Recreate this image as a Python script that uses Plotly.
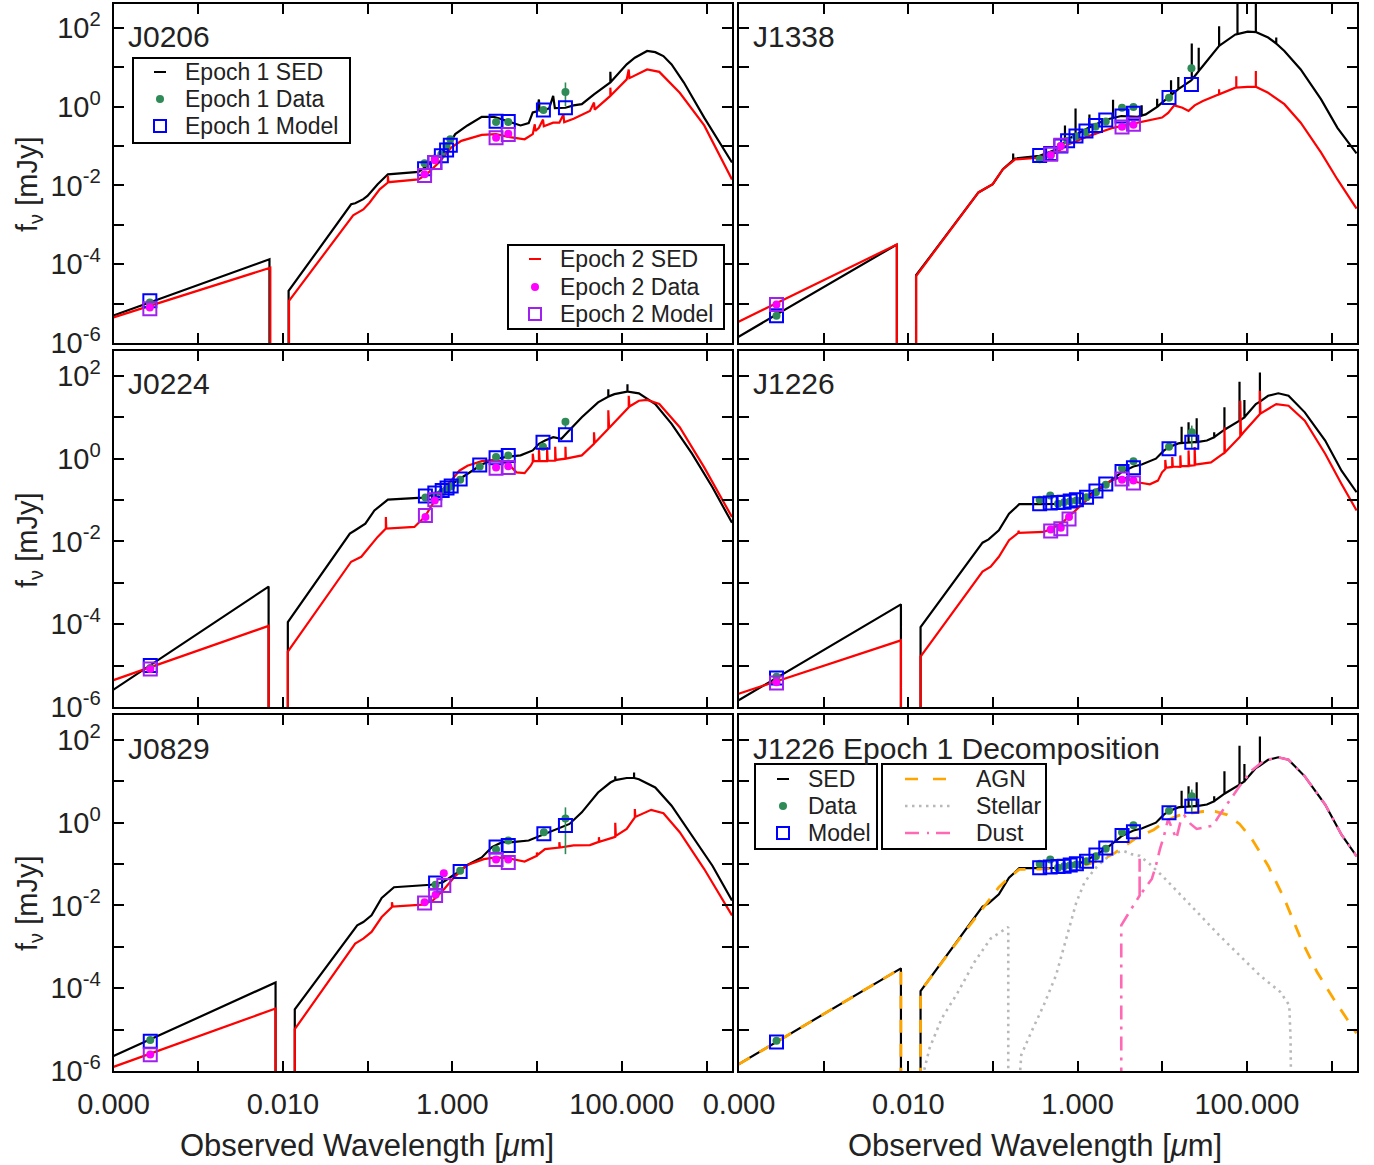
import numpy as np
import plotly.graph_objects as go

# ------------------------------------------------------------------
# Values.
# SED pairs are (log10 observed wavelength [um], log10 f_nu [mJy]).
# A flux of -7 (1e-7 mJy) marks the model dropping to zero (below range).
# ------------------------------------------------------------------

# ---------------- J0206 ----------------
J0206_E1_SED = [(-4.0, -5.30), (-2.159, -3.875), (-2.159, -7), (-1.933, -7), (-1.933, -4.68),
                (-1.195, -2.48), (-1.147, -2.455), (-1.051, -2.35), (-1.002, -2.27), (-0.882, -1.97),
                (-0.761, -1.72), (-0.400, -1.66), (-0.304, -1.51), (-0.159, -1.25), (-0.014, -0.87),
                (0.034, -0.70), (0.178, -0.48), (0.347, -0.26), (0.491, -0.26), (0.660, -0.37),
                (0.805, -0.48), (0.901, -0.42), (0.949, -0.15), (1.000, -0.12), (1.022, 0.18),
                (1.030, -0.10), (1.142, -0.05), (1.190, 0.27), (1.210, -0.04), (1.335, -0.03),
                (1.431, 0.03), (1.528, 0.06), (1.672, 0.31), (1.865, 0.61), (1.865, 0.88),
                (1.870, 0.62), (2.058, 1.07), (2.154, 1.24), (2.299, 1.41), (2.395, 1.38),
                (2.491, 1.28), (2.588, 1.07), (2.733, 0.61), (2.973, -0.28), (3.301, -1.42)]
J0206_E2_SED = [(-4.0, -5.35), (-2.149, -4.09), (-2.149, -7), (-1.928, -7), (-1.928, -4.93),
                (-1.171, -2.76), (-1.051, -2.61), (-0.978, -2.44), (-0.858, -2.10), (-0.761, -1.93),
                (-0.761, -1.76), (-0.755, -1.92), (-0.400, -1.85), (-0.304, -1.72), (-0.159, -1.42),
                (-0.014, -1.04), (0.106, -0.87), (0.347, -0.72), (0.516, -0.70), (0.660, -0.77),
                (0.853, -0.83), (0.949, -0.70), (0.973, -0.45), (0.980, -0.62), (1.022, -0.54),
                (1.070, -0.33), (1.080, -0.50), (1.190, -0.41), (1.263, -0.41), (1.311, -0.20),
                (1.320, -0.40), (1.431, -0.31), (1.624, -0.11), (1.672, 0.10), (1.680, -0.08),
                (1.865, 0.27), (1.865, 0.48), (1.870, 0.28), (2.058, 0.69), (2.082, 0.94),
                (2.090, 0.72), (2.299, 0.94), (2.443, 0.88), (2.684, 0.35), (2.973, -0.48),
                (3.301, -1.85)]
J0206_E1_BANDS = [-3.571, -0.328, -0.207, -0.130, -0.068, -0.024, 0.516, 0.660, 1.075, 1.335]
J0206_E1_DATA = [-4.97, -1.44, -1.32, -1.21, -1.00, -0.83, -0.39, -0.39, -0.09, 0.37]
J0206_E1_MODEL = [-4.93, -1.58, -1.42, -1.25, -1.10, -0.98, -0.37, -0.38, -0.09, -0.03]
J0206_E2_BANDS = [-3.571, -0.328, -0.207, 0.516, 0.660]
J0206_E2_DATA = [-5.10, -1.72, -1.36, -0.79, -0.69]
J0206_E2_MODEL = [-5.13, -1.75, -1.42, -0.79, -0.71]
J0206_E1_ERR = [(1.335, 0.01, 0.61)]   # (log wl, log low, log high)

# ---------------- J1338 ----------------
J1338_E1_SED = [(-4.005, -5.84), (-2.135, -3.50), (-2.135, -7), (-1.908, -7), (-1.908, -4.28),
                (-1.171, -2.18), (-1.075, -2.06), (-1.002, -1.97), (-0.882, -1.59), (-0.761, -1.36),
                (-0.761, -1.19), (-0.761, -1.36), (-0.737, -1.32), (-0.448, -1.25), (-0.255, -1.09),
                (-0.149, -0.90), (-0.149, -0.48), (-0.149, -0.90), (-0.111, -0.83), (-0.024, -0.72),
                (-0.024, -0.05), (-0.024, -0.72), (0.130, -0.54), (0.140, -0.53), (0.140, -0.20),
                (0.140, -0.53), (0.323, -0.34), (0.419, -0.29), (0.419, 0.17), (0.419, -0.29),
                (0.516, -0.24), (0.708, -0.26), (0.757, -0.23), (0.757, 0.03), (0.757, -0.23),
                (0.805, -0.20), (0.901, -0.07), (0.940, -0.01), (0.940, 0.20), (0.940, -0.01),
                (0.998, 0.10), (1.094, 0.27), (1.104, 0.29), (1.104, 0.67), (1.104, 0.29),
                (1.190, 0.44), (1.190, 0.75), (1.190, 0.44), (1.335, 0.65), (1.349, 0.68),
                (1.349, 1.60), (1.349, 0.68), (1.431, 0.90), (1.431, 1.49), (1.431, 0.90),
                (1.480, 1.03), (1.672, 1.54), (1.672, 2.04), (1.672, 1.54), (1.865, 1.83),
                (1.889, 1.84), (1.889, 2.70), (1.889, 1.84), (2.010, 1.90), (2.106, 1.89),
                (2.106, 2.70), (2.106, 1.89), (2.251, 1.75), (2.347, 1.60), (2.347, 1.75),
                (2.347, 1.60), (2.443, 1.41), (2.636, 0.94), (2.877, 0.18), (3.070, -0.54),
                (3.296, -1.19)]
J1338_E2_SED = [(-4.005, -5.46), (-2.135, -3.50), (-2.135, -7), (-1.908, -7), (-1.908, -4.30),
                (-1.171, -2.18), (-1.075, -2.06), (-1.002, -1.97), (-0.882, -1.59), (-0.737, -1.34),
                (-0.448, -1.30), (-0.255, -1.17), (-0.111, -0.96), (0.130, -0.75), (0.419, -0.54),
                (0.708, -0.41), (0.998, -0.28), (1.070, -0.16), (1.142, 0.03), (1.239, -0.03),
                (1.311, -0.11), (1.383, 0.03), (1.480, 0.14), (1.672, 0.31), (1.672, 0.44),
                (1.672, 0.31), (1.865, 0.48), (1.875, 0.48), (1.875, 0.77), (1.875, 0.48),
                (2.010, 0.50), (2.106, 0.50), (2.106, 0.90), (2.106, 0.50), (2.251, 0.35),
                (2.443, 0.06), (2.636, -0.41), (2.877, -1.17), (3.070, -1.85), (3.296, -2.59)]
J1338_E1_BANDS = [-3.557, -0.448, -0.318, -0.198, -0.118, -0.019, 0.099, 0.212, 0.333, 0.525, 0.660, 1.080, 1.345]
J1338_E1_DATA = [-5.31, -1.34, -1.24, -1.00, -0.87, -0.76, -0.65, -0.51, -0.38, -0.03, -0.01, 0.22, 0.97]
J1338_E1_MODEL = [-5.31, -1.24, -1.19, -1.00, -0.87, -0.75, -0.62, -0.48, -0.34, -0.24, -0.17, 0.23, 0.56]
J1338_E2_BANDS = [-3.557, -0.318, -0.198, 0.525, 0.660]
J1338_E2_DATA = [-5.02, -1.23, -1.00, -0.51, -0.46]
J1338_E2_MODEL = [-5.02, -1.21, -0.98, -0.52, -0.45]
J1338_E1_ERR = []

# ---------------- J0224 ----------------
J0224_E1_SED = [(-4.0, -5.58), (-2.169, -3.09), (-2.169, -7), (-1.942, -7), (-1.942, -3.95),
                (-1.210, -1.81), (-1.147, -1.73), (-1.027, -1.57), (-0.920, -1.25), (-0.761, -0.99),
                (-0.352, -0.94), (-0.207, -0.86), (-0.063, -0.69), (0.082, -0.49), (0.202, -0.33),
                (0.347, -0.14), (0.516, 0.00), (0.660, 0.05), (0.805, 0.08), (0.949, 0.20),
                (1.022, 0.36), (1.094, 0.44), (1.190, 0.52), (1.287, 0.48), (1.359, 0.64),
                (1.528, 1.00), (1.720, 1.36), (1.841, 1.50), (1.841, 1.68), (1.841, 1.50),
                (1.913, 1.56), (2.058, 1.62), (2.067, 1.62), (2.067, 1.80), (2.067, 1.62),
                (2.202, 1.58), (2.395, 1.32), (2.588, 0.84), (2.829, 0.12), (3.070, -0.69),
                (3.301, -1.55)]
J0224_E2_SED = [(-4.0, -5.35), (-2.169, -4.04), (-2.169, -7), (-1.942, -7), (-1.942, -4.66),
                (-1.195, -2.49), (-1.075, -2.37), (-0.978, -2.13), (-0.882, -1.89), (-0.785, -1.69),
                (-0.785, -1.41), (-0.780, -1.69), (-0.448, -1.65), (-0.328, -1.41), (-0.255, -1.17),
                (-0.159, -0.85), (-0.014, -0.53), (0.082, -0.29), (0.178, -0.17), (0.347, -0.06),
                (0.516, -0.03), (0.660, -0.13), (0.757, -0.33), (0.853, -0.35), (0.925, -0.17),
                (0.949, -0.08), (0.949, 0.12), (0.960, -0.06), (1.022, -0.06), (1.022, 0.26),
                (1.030, -0.06), (1.118, -0.06), (1.118, 0.28), (1.125, -0.05), (1.214, -0.05),
                (1.214, 0.29), (1.220, -0.03), (1.335, 0.00), (1.335, 0.29), (1.340, 0.00),
                (1.528, 0.08), (1.672, 0.36), (1.672, 0.64), (1.680, 0.38), (1.841, 0.72),
                (1.841, 1.17), (1.850, 0.74), (2.082, 1.24), (2.082, 1.52), (2.090, 1.26),
                (2.202, 1.40), (2.299, 1.42), (2.443, 1.32), (2.684, 0.76), (2.973, -0.21),
                (3.301, -1.41)]
J0224_E1_BANDS = [-3.566, -0.318, -0.207, -0.120, -0.063, -0.014, 0.092, 0.323, 0.516, 0.660, 1.070, 1.335]
J0224_E1_DATA = [-5.06, -0.94, -0.89, -0.81, -0.73, -0.67, -0.51, -0.19, 0.04, 0.08, 0.29, 0.89]
J0224_E1_MODEL = [-5.00, -0.90, -0.83, -0.77, -0.71, -0.66, -0.49, -0.15, 0.02, 0.08, 0.40, 0.58]
J0224_E2_BANDS = [-3.566, -0.318, -0.207, 0.516, 0.660]
J0224_E2_DATA = [-5.08, -1.41, -1.01, -0.21, -0.18]
J0224_E2_MODEL = [-5.08, -1.37, -0.99, -0.23, -0.21]
J0224_E1_ERR = [(1.335, 0.74, 0.98)]

# ---------------- J1226 ----------------
J1226_E1_SED = [(-4.005, -5.84), (-2.087, -3.52), (-2.087, -7), (-1.855, -7), (-1.855, -4.07),
                (-1.123, -2.03), (-1.051, -1.95), (-0.930, -1.73), (-0.810, -1.33), (-0.689, -1.10),
                (-0.448, -1.10), (-0.255, -1.09), (-0.063, -1.05), (0.082, -0.93), (0.227, -0.77),
                (0.371, -0.57), (0.516, -0.33), (0.660, -0.19), (0.757, -0.14), (0.925, 0.00),
                (1.022, 0.20), (1.094, 0.29), (1.190, 0.37), (1.229, 0.38), (1.229, 0.77),
                (1.229, 0.38), (1.311, 0.39), (1.311, 0.88), (1.311, 0.39), (1.383, 0.40),
                (1.407, 0.40), (1.407, 0.98), (1.407, 0.40), (1.528, 0.44), (1.614, 0.52),
                (1.614, 0.64), (1.614, 0.52), (1.720, 0.68), (1.735, 0.70), (1.735, 1.24),
                (1.735, 0.70), (1.913, 0.92), (1.913, 1.86), (1.913, 0.92), (1.971, 1.00),
                (1.971, 1.42), (1.971, 1.00), (2.106, 1.32), (2.154, 1.38), (2.154, 2.08),
                (2.154, 1.38), (2.251, 1.52), (2.371, 1.58), (2.492, 1.52), (2.684, 1.12),
                (2.925, 0.44), (3.118, -0.29), (3.296, -0.81)]
J1226_E2_SED = [(-4.005, -5.68), (-2.087, -4.39), (-2.087, -7), (-1.855, -7), (-1.855, -4.78),
                (-1.123, -2.73), (-1.027, -2.61), (-0.930, -2.37), (-0.810, -1.97), (-0.699, -1.79),
                (-0.699, -1.74), (-0.690, -1.79), (-0.400, -1.77), (-0.304, -1.69), (-0.183, -1.55),
                (-0.063, -1.33), (0.082, -1.05), (0.227, -0.75), (0.395, -0.53), (0.516, -0.45),
                (0.708, -0.57), (0.853, -0.62), (0.949, -0.53), (0.998, -0.33), (1.036, -0.25),
                (1.036, -0.03), (1.045, -0.22), (1.118, -0.20), (1.118, 0.04), (1.125, -0.19),
                (1.214, -0.20), (1.214, 0.08), (1.220, -0.18), (1.311, -0.18), (1.311, 0.20),
                (1.318, -0.17), (1.383, -0.16), (1.383, 0.28), (1.390, -0.14), (1.431, -0.13),
                (1.576, -0.09), (1.720, 0.12), (1.735, 0.14), (1.735, 0.76), (1.740, 0.15),
                (1.913, 0.52), (1.922, 0.54), (1.922, 1.40), (1.930, 0.56), (1.961, 0.64),
                (2.154, 1.08), (2.154, 1.64), (2.160, 1.09), (2.347, 1.32), (2.492, 1.28),
                (2.684, 0.92), (2.925, 0.12), (3.118, -0.61), (3.296, -1.25)]
J1226_E1_BANDS = [-3.557, -0.448, -0.323, -0.231, -0.159, -0.087, -0.014, 0.106, 0.217, 0.333, 0.525, 0.660, 1.080, 1.349]
J1226_E1_DATA = [-5.27, -0.99, -0.89, -1.09, -1.05, -1.03, -1.01, -0.93, -0.81, -0.63, -0.23, -0.06, 0.29, 0.64]
J1226_E1_MODEL = [-5.30, -1.09, -1.07, -1.06, -1.05, -1.02, -0.99, -0.93, -0.78, -0.61, -0.31, -0.22, 0.24, 0.40]
J1226_E2_BANDS = [-3.557, -0.318, -0.198, -0.101, 0.525, 0.660]
J1226_E2_DATA = [-5.40, -1.71, -1.67, -1.41, -0.51, -0.53]
J1226_E2_MODEL = [-5.42, -1.75, -1.69, -1.46, -0.49, -0.59]
J1226_E1_ERR = [(1.349, 0.26, 0.80)]

# J1226 epoch-1 decomposition components
J1226_AGN = [(-4.005, -5.84), (-2.087, -3.52), (-2.087, -7), (-1.855, -7), (-1.855, -4.07),
             (-1.605, -3.37), (-1.364, -2.72), (-1.123, -2.08), (-0.930, -1.56), (-0.786, -1.28),
             (-0.689, -1.13), (-0.448, -1.12), (-0.255, -1.10), (-0.014, -1.05), (0.130, -1.00),
             (0.275, -0.89), (0.419, -0.76), (0.564, -0.55), (0.708, -0.35), (0.901, -0.17),
             (1.046, 0.05), (1.190, 0.17), (1.335, 0.23), (1.480, 0.27), (1.624, 0.27),
             (1.769, 0.19), (1.913, -0.03), (2.058, -0.39), (2.251, -1.04), (2.443, -1.84),
             (2.636, -2.80), (2.829, -3.61), (3.022, -4.25), (3.296, -5.09)]
J1226_STELLAR = [(-1.850, -6.3), (-1.749, -5.45), (-1.605, -4.73), (-1.412, -4.09), (-1.219, -3.37),
                 (-1.027, -2.80), (-0.819, -2.52), (-0.819, -7), (-0.713, -7), (-0.665, -5.61),
                 (-0.545, -5.05), (-0.400, -4.41), (-0.255, -3.69), (-0.135, -2.80), (-0.014, -1.92),
                 (0.082, -1.44), (0.202, -1.12), (0.323, -0.88), (0.443, -0.73), (0.540, -0.68),
                 (0.636, -0.76), (0.733, -0.80), (0.853, -1.00), (0.998, -1.28), (1.190, -1.68),
                 (1.431, -2.20), (1.672, -2.72), (1.913, -3.21), (2.154, -3.69), (2.395, -4.09),
                 (2.501, -4.41), (2.516, -5.21), (2.525, -7)]
J1226_DUST = [(0.516, -7), (0.516, -2.48), (0.636, -2.08), (0.733, -1.76), (0.733, -0.87),
              (0.733, -1.76), (0.805, -1.56), (0.877, -1.36), (0.925, -1.04), (0.973, -0.64),
              (1.022, -0.31), (1.070, 0.09), (1.118, -0.15), (1.166, -0.39), (1.214, 0.01),
              (1.263, 0.17), (1.335, -0.03), (1.407, -0.15), (1.504, -0.11), (1.600, -0.07),
              (1.672, 0.17), (1.769, 0.45), (1.913, 0.88), (2.058, 1.26), (2.202, 1.50),
              (2.371, 1.58), (2.492, 1.52), (2.684, 1.12), (2.925, 0.44), (3.118, -0.29),
              (3.296, -0.81)]

# ---------------- J0829 ----------------
J0829_E1_SED = [(-4.0, -5.64), (-2.087, -3.86), (-2.087, -7), (-1.860, -7), (-1.860, -4.51),
                (-1.123, -2.48), (-1.051, -2.40), (-0.954, -2.24), (-0.834, -1.82), (-0.689, -1.56),
                (-0.255, -1.50), (-0.111, -1.44), (0.034, -1.24), (0.178, -1.02), (0.347, -0.84),
                (0.467, -0.59), (0.588, -0.47), (0.708, -0.47), (0.901, -0.43), (0.998, -0.35),
                (1.094, -0.27), (1.239, -0.15), (1.383, -0.03), (1.528, 0.25), (1.720, 0.73),
                (1.865, 0.97), (1.923, 1.03), (1.923, 1.12), (1.923, 1.03), (2.058, 1.08),
                (2.145, 1.08), (2.145, 1.21), (2.145, 1.08), (2.202, 1.05), (2.395, 0.85),
                (2.588, 0.41), (2.829, -0.31), (3.070, -1.04), (3.301, -1.88)]
J0829_E2_SED = [(-4.0, -5.90), (-2.087, -4.49), (-2.087, -7), (-1.860, -7), (-1.860, -4.99),
                (-1.147, -2.92), (-1.051, -2.80), (-0.954, -2.64), (-0.834, -2.28), (-0.713, -2.04),
                (-0.713, -1.92), (-0.705, -2.03), (-0.352, -1.98), (-0.231, -1.88), (-0.111, -1.64),
                (0.034, -1.29), (0.178, -1.02), (0.371, -0.88), (0.516, -0.84), (0.660, -0.86),
                (0.853, -0.94), (0.973, -0.84), (0.998, -0.80), (0.998, -0.72), (1.005, -0.78),
                (1.094, -0.64), (1.263, -0.60), (1.263, -0.47), (1.270, -0.60), (1.431, -0.55),
                (1.624, -0.54), (1.720, -0.47), (1.730, -0.46), (1.730, -0.35), (1.735, -0.46),
                (1.913, -0.35), (1.923, -0.34), (1.923, 0.00), (1.930, -0.32), (2.058, -0.15),
                (2.154, 0.13), (2.154, 0.33), (2.160, 0.14), (2.347, 0.31), (2.492, 0.23),
                (2.684, -0.23), (2.973, -1.12), (3.301, -2.24)]
J0829_E1_BANDS = [-3.566, -0.198, 0.092, 0.516, 0.660, 1.080, 1.335]
J0829_E1_DATA = [-5.25, -1.50, -1.16, -0.65, -0.43, -0.23, 0.10]
J0829_E1_MODEL = [-5.28, -1.46, -1.18, -0.59, -0.55, -0.27, -0.07]
J0829_E2_BANDS = [-3.566, -0.328, -0.198, -0.101, 0.516, 0.660]
J0829_E2_DATA = [-5.60, -1.92, -1.74, -1.22, -0.89, -0.89]
J0829_E2_MODEL = [-5.61, -1.94, -1.76, -1.52, -0.89, -0.96]
J0829_E1_ERR = [(1.335, -0.76, 0.37)]

# Axis ticks (labelled every two decades, plain ticks in between)
X_TICK_VALUES = [1e-4, 1e-2, 1e0, 1e2]
X_TICK_LABELS = ["0.000", "0.010", "1.000", "100.000"]
X_MINOR_TICKS = [1e-3, 1e-1, 1e1, 1e3]
Y_TICK_VALUES = [1e-6, 1e-4, 1e-2, 1e0, 1e2]
Y_TICK_LABELS = ["10<sup>-6</sup>", "10<sup>-4</sup>", "10<sup>-2</sup>", "10<sup>0</sup>", "10<sup>2</sup>"]
Y_MINOR_TICKS = [1e-5, 1e-3, 1e-1, 1e1]
X_RANGE_UM = (1e-4, 2000.0)
Y_RANGE_MJY = (1e-6, 4e2)

PANELS = [
    dict(label="J0206", sed1=J0206_E1_SED, sed2=J0206_E2_SED, b1=J0206_E1_BANDS, d1=J0206_E1_DATA,
         m1=J0206_E1_MODEL, b2=J0206_E2_BANDS, d2=J0206_E2_DATA, m2=J0206_E2_MODEL, err=J0206_E1_ERR),
    dict(label="J1338", sed1=J1338_E1_SED, sed2=J1338_E2_SED, b1=J1338_E1_BANDS, d1=J1338_E1_DATA,
         m1=J1338_E1_MODEL, b2=J1338_E2_BANDS, d2=J1338_E2_DATA, m2=J1338_E2_MODEL, err=J1338_E1_ERR),
    dict(label="J0224", sed1=J0224_E1_SED, sed2=J0224_E2_SED, b1=J0224_E1_BANDS, d1=J0224_E1_DATA,
         m1=J0224_E1_MODEL, b2=J0224_E2_BANDS, d2=J0224_E2_DATA, m2=J0224_E2_MODEL, err=J0224_E1_ERR),
    dict(label="J1226", sed1=J1226_E1_SED, sed2=J1226_E2_SED, b1=J1226_E1_BANDS, d1=J1226_E1_DATA,
         m1=J1226_E1_MODEL, b2=J1226_E2_BANDS, d2=J1226_E2_DATA, m2=J1226_E2_MODEL, err=J1226_E1_ERR),
    dict(label="J0829", sed1=J0829_E1_SED, sed2=J0829_E2_SED, b1=J0829_E1_BANDS, d1=J0829_E1_DATA,
         m1=J0829_E1_MODEL, b2=J0829_E2_BANDS, d2=J0829_E2_DATA, m2=J0829_E2_MODEL, err=J0829_E1_ERR),
    dict(label="J1226 Epoch 1 Decomposition", sed1=J1226_E1_SED, sed2=None, b1=J1226_E1_BANDS,
         d1=J1226_E1_DATA, m1=J1226_E1_MODEL, b2=None, d2=None, m2=None, err=J1226_E1_ERR,
         agn=J1226_AGN, stellar=J1226_STELLAR, dust=J1226_DUST),
]

# ------------------------------------------------------------------ styles / layout
FONT = "Liberation Sans, Arial, Helvetica, sans-serif"
TXT = "#222222"
W, H = 1374, 1165
COL_PX = [(113.5, 732.0), (739.0, 1357.0)]
ROW_PX = [(4.0, 343.0), (351.0, 707.0), (715.0, 1071.0)]

C_E1 = "black"
C_E2 = "#ff0000"
C_D1 = "#2e8b57"
C_M1 = "#0000ff"
C_D2 = "#ff00ff"
C_M2 = "#a020f0"
C_AGN, DASH_AGN = "#ffa500", "13px,11px"
C_STE, DASH_STE = "#b8b8b8", "2.5px,4.5px"
C_DUS, DASH_DUS = "#ff69b4", "14px,7px,3px,7px"


def lin(v):
    return [10.0 ** a for a in v]


def split(pairs):
    return lin([p[0] for p in pairs]), lin([p[1] for p in pairs])


fig = go.Figure()

for k, P in enumerate(PANELS):
    sfx = "" if k == 0 else str(k + 1)
    xa, ya = "x" + sfx, "y" + sfx
    decomp = (k == 5)

    x, y = split(P["sed1"])
    fig.add_trace(go.Scatter(x=x, y=y, mode="lines", xaxis=xa, yaxis=ya,
                             line=dict(color=C_E1, width=2.2),
                             name="SED" if decomp else "Epoch 1 SED", showlegend=False))
    if P["sed2"] is not None:
        x, y = split(P["sed2"])
        fig.add_trace(go.Scatter(x=x, y=y, mode="lines", xaxis=xa, yaxis=ya,
                                 line=dict(color=C_E2, width=2.2),
                                 name="Epoch 2 SED", showlegend=False))
    if decomp:
        for key, nm, col, dsh, wd in [("agn", "AGN", C_AGN, DASH_AGN, 2.8),
                                      ("stellar", "Stellar", C_STE, DASH_STE, 2.6),
                                      ("dust", "Dust", C_DUS, DASH_DUS, 2.6)]:
            x, y = split(P[key])
            fig.add_trace(go.Scatter(x=x, y=y, mode="lines", xaxis=xa, yaxis=ya,
                                     line=dict(color=col, width=wd, dash=dsh),
                                     name=nm, showlegend=False))

    # error bars
    ex, ey = [], []
    for wl, lo, hi in P["err"]:
        ex += [10 ** wl, 10 ** wl, None]
        ey += [10 ** lo, 10 ** hi, None]
    if ex:
        fig.add_trace(go.Scatter(x=ex, y=ey, mode="lines", xaxis=xa, yaxis=ya,
                                 line=dict(color=C_D1, width=1.6), showlegend=False,
                                 hoverinfo="skip"))

    fig.add_trace(go.Scatter(x=lin(P["b1"]), y=lin(P["d1"]), mode="markers", xaxis=xa, yaxis=ya,
                             marker=dict(color=C_D1, size=8, symbol="circle"),
                             name="Data" if decomp else "Epoch 1 Data", showlegend=False))
    fig.add_trace(go.Scatter(x=lin(P["b1"]), y=lin(P["m1"]), mode="markers", xaxis=xa, yaxis=ya,
                             marker=dict(color=C_M1, size=13, symbol="square-open",
                                         line=dict(width=2, color=C_M1)),
                             name="Model" if decomp else "Epoch 1 Model", showlegend=False))
    if P["b2"] is not None:
        fig.add_trace(go.Scatter(x=lin(P["b2"]), y=lin(P["d2"]), mode="markers", xaxis=xa, yaxis=ya,
                                 marker=dict(color=C_D2, size=8, symbol="circle"),
                                 name="Epoch 2 Data", showlegend=False))
        fig.add_trace(go.Scatter(x=lin(P["b2"]), y=lin(P["m2"]), mode="markers", xaxis=xa, yaxis=ya,
                                 marker=dict(color=C_M2, size=13, symbol="square-open",
                                             line=dict(width=2, color=C_M2)),
                                 name="Epoch 2 Model", showlegend=False))

# ------------------------------------------------------------------ axes
axes = {}
annotations = []
shapes = []
for k, P in enumerate(PANELS):
    r, c = divmod(k, 2)
    sfx = "" if k == 0 else str(k + 1)
    common = dict(ticks="inside", ticklen=10, tickwidth=2, tickcolor="black",
                  showline=True, linewidth=2, linecolor="black", mirror="ticks",
                  showgrid=False, zeroline=False, automargin=False,
                  tickfont=dict(family=FONT, size=29, color=TXT))
    axes["xaxis" + sfx] = dict(
        type="log", range=[np.log10(X_RANGE_UM[0]), np.log10(X_RANGE_UM[1])],
        domain=[COL_PX[c][0] / W, COL_PX[c][1] / W], anchor="y" + sfx,
        tickmode="array", tickvals=X_TICK_VALUES, ticktext=X_TICK_LABELS,
        minor=dict(tickmode="array", tickvals=X_MINOR_TICKS, ticks="inside", ticklen=10,
                   tickwidth=2, tickcolor="black", showgrid=False),
        showticklabels=(r == 2), ticklabelstandoff=6, **common)
    axes["yaxis" + sfx] = dict(
        type="log", range=[np.log10(Y_RANGE_MJY[0]), np.log10(Y_RANGE_MJY[1])],
        domain=[1 - ROW_PX[r][1] / H, 1 - ROW_PX[r][0] / H], anchor="x" + sfx,
        tickmode="array", tickvals=Y_TICK_VALUES, ticktext=Y_TICK_LABELS,
        minor=dict(tickmode="array", tickvals=Y_MINOR_TICKS, ticks="inside", ticklen=10,
                   tickwidth=2, tickcolor="black", showgrid=False),
        showticklabels=(c == 0), ticklabelstandoff=5, **common)
    annotations.append(dict(text=P["label"], xref="paper", yref="paper",
                            x=(COL_PX[c][0] + 12) / W, y=1 - (ROW_PX[r][0] + 33) / H,
                            xanchor="left", yanchor="middle", showarrow=False,
                            font=dict(family=FONT, size=30, color=TXT)))

for ypx in [184, 540, 903]:
    annotations.append(dict(text="f<sub>ν</sub> [mJy]", xref="paper", yref="paper",
                            x=29 / W, y=1 - ypx / H, textangle=-90, showarrow=False,
                            xanchor="center", yanchor="middle",
                            font=dict(family=FONT, size=29, color=TXT)))
for xpx in [367, 1035]:
    annotations.append(dict(text="Observed Wavelength [<i>μ</i>m]", xref="paper", yref="paper",
                            x=xpx / W, y=1 - 1145 / H, showarrow=False,
                            xanchor="center", yanchor="middle",
                            font=dict(family=FONT, size=31, color=TXT)))

# ------------------------------------------------------------------ legend boxes (pixel layout)
LEGENDS = [
    dict(box=(133, 58, 350, 143), sym_x=160, text_x=183, rows=(72, 99, 126),
         items=[("short", C_E1, None, "Epoch 1 SED"), ("dot", C_D1, None, "Epoch 1 Data"),
                ("square", C_M1, None, "Epoch 1 Model")]),
    dict(box=(508, 245, 724, 329), sym_x=535, text_x=558, rows=(259, 287, 314),
         items=[("short", C_E2, None, "Epoch 2 SED"), ("dot", C_D2, None, "Epoch 2 Data"),
                ("square", C_M2, None, "Epoch 2 Model")]),
    dict(box=(755, 764, 877, 849), sym_x=783, text_x=806, rows=(779, 806, 833),
         items=[("short", C_E1, None, "SED"), ("dot", C_D1, None, "Data"),
                ("square", C_M1, None, "Model")]),
    dict(box=(882, 764, 1046, 849), sym_x=928, text_x=974, rows=(779, 806, 833),
         items=[("long", C_AGN, "13px,15px", "AGN"), ("long", C_STE, "2.5px,4.5px", "Stellar"),
                ("long", C_DUS, "14px,8px,2px,7px", "Dust")]),
]


def px_x(v):
    return v / W


def px_y(v):
    return 1 - v / H


for L in LEGENDS:
    x0, y0, x1, y1 = L["box"]
    shapes.append(dict(type="rect", xref="paper", yref="paper", layer="above",
                       x0=px_x(x0), x1=px_x(x1), y0=px_y(y1), y1=px_y(y0),
                       line=dict(color="black", width=2), fillcolor="white"))
    for (kind, col, dsh, label), ry in zip(L["items"], L["rows"]):
        sx = L["sym_x"]
        if kind == "short":
            shapes.append(dict(type="line", xref="paper", yref="paper", layer="above",
                               x0=px_x(sx - 6), x1=px_x(sx + 6), y0=px_y(ry), y1=px_y(ry),
                               line=dict(color=col, width=2)))
        elif kind == "long":
            shapes.append(dict(type="line", xref="paper", yref="paper", layer="above",
                               x0=px_x(sx - 23), x1=px_x(sx + 23), y0=px_y(ry), y1=px_y(ry),
                               line=dict(color=col, width=2.4, dash=dsh)))
        elif kind == "dot":
            shapes.append(dict(type="circle", xref="paper", yref="paper", layer="above",
                               x0=px_x(sx - 4), x1=px_x(sx + 4), y0=px_y(ry + 4), y1=px_y(ry - 4),
                               line=dict(color=col, width=0), fillcolor=col))
        else:
            shapes.append(dict(type="rect", xref="paper", yref="paper", layer="above",
                               x0=px_x(sx - 6), x1=px_x(sx + 6), y0=px_y(ry + 6), y1=px_y(ry - 6),
                               line=dict(color=col, width=2), fillcolor="rgba(0,0,0,0)"))
        annotations.append(dict(text=label, xref="paper", yref="paper",
                                x=px_x(L["text_x"]), y=px_y(ry), xanchor="left", yanchor="middle",
                                showarrow=False, font=dict(family=FONT, size=23, color=TXT)))

fig.update_layout(
    width=W, height=H, margin=dict(l=0, r=0, t=0, b=0, autoexpand=False),
    paper_bgcolor="white", plot_bgcolor="white",
    showlegend=False,
    annotations=annotations, shapes=shapes,
    **axes,
)

fig.write_html("out.html", config={"displayModeBar": False},
               post_script="document.body.style.margin='0px';")
